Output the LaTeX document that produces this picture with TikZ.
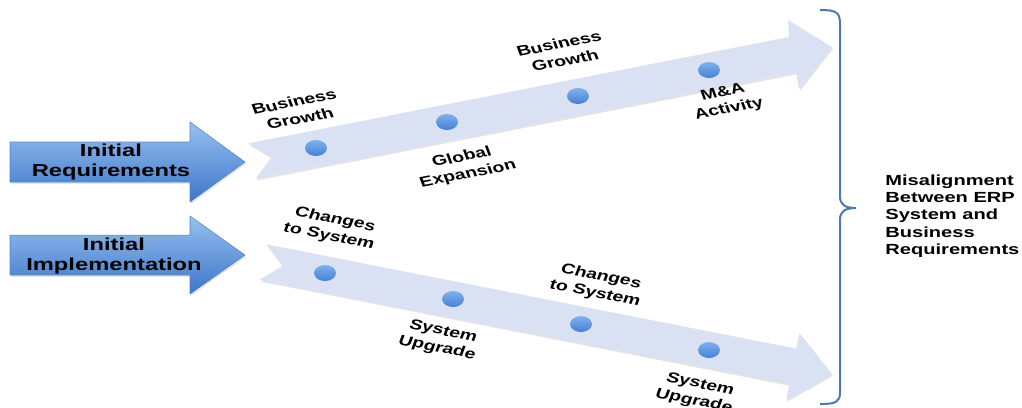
\documentclass[tikz,border=0pt]{standalone}
\usepackage{fontspec}
\setmainfont{Liberation Sans}
\usetikzlibrary{shadows}
\definecolor{trackfill}{RGB}{218,225,243}
\definecolor{dottop}{RGB}{128,176,238}
\definecolor{dotbot}{RGB}{70,128,212}
\definecolor{arrtop}{RGB}{152,192,240}
\definecolor{arrbot}{RGB}{60,118,200}
\definecolor{arredge}{RGB}{84,132,200}
\definecolor{bracecol}{RGB}{79,120,178}
\begin{document}
\begin{tikzpicture}[x=0.5474pt, y=-0.75pt, xscale=1.37,
  every node/.style={transform shape},
  track/.style={fill=trackfill, drop shadow={opacity=0.22, shadow xshift=0.8pt, shadow yshift=-1.4pt}},
  inarrow/.style={top color=arrtop, bottom color=arrbot, draw=arredge, line width=0.4pt,
    drop shadow={opacity=0.2, shadow xshift=0.8pt, shadow yshift=-1.4pt}},
  intext/.style={font=\fontsize{13}{15.5}\selectfont\bfseries, align=center, inner sep=0pt},
  lbl/.style={font=\fontsize{10.7}{13}\selectfont\bfseries, align=center, inner sep=0pt},
  dot/.style={circle, minimum size=12pt, inner sep=0pt, top color=dottop, bottom color=dotbot},
  brace/.style={draw=bracecol, line width=1.5pt}]
\useasboundingbox (0,0) rectangle (1022,407);
% input arrows
\path[inarrow] (10,142) -- (190,142) -- (190,122) -- (245,162) -- (190,202) -- (190,182) -- (10,182) -- cycle;
\path[inarrow] (10,235) -- (190,235) -- (190,216) -- (245,255) -- (190,294) -- (190,275) -- (10,275) -- cycle;
\node[intext] (req)  at (111,162) {Initial\\Requirements};
\node[intext] (impl) at (114,256) {Initial\\Implementation};
% tracks
\path[track] (248.5,143.3) -- (789,37) -- (788,20) -- (832,47) -- (799,89) -- (796,72.4)
  -- (255.5,178.7) -- (271.6,157.1) -- cycle;
\path[track] (266.5,244.3) -- (796.3,348.6) -- (799.4,332.9) -- (832,374) -- (786.2,399.7)
  -- (789.3,384) -- (259.5,279.7) -- (282.6,265.9) -- cycle;
% upper track
\node[dot] (u1) at (316,148) {};
\node[dot] (u2) at (447,122) {};
\node[dot] (u3) at (578,96) {};
\node[dot] (u4) at (709,70) {};
\node[lbl, rotate=15.1] (ugrow1) at (297,110) {Business\\Growth};
\node[lbl, rotate=15.1] (uglob)  at (465,166) {Global\\Expansion};
\node[lbl, rotate=15.1] (ugrow2) at (562,52)  {Business\\Growth};
\node[lbl, rotate=15.1] (umna)   at (726,101) {M\&A\\Activity};
% lower track
\node[dot] (l1) at (325,273) {};
\node[dot] (l2) at (453,299) {};
\node[dot] (l3) at (581,324) {};
\node[dot] (l4) at (709,350) {};
\node[lbl, rotate=-15.1] (lchg1) at (332,228) {Changes\\to System};
\node[lbl, rotate=-15.1] (lupg1) at (440,340) {System\\Upgrade};
\node[lbl, rotate=-15.1] (lchg2) at (598,285) {Changes\\to System};
\node[lbl, rotate=-15.1] (lupg2) at (697,393) {System\\Upgrade};
% brace and result
\coordinate (cusp) at (856,208);
\draw[brace] (820,10) .. controls (836,10) and (840,12) .. (840,24) -- (840,196)
  .. controls (840,205) and (845,208) .. (cusp)
  .. controls (845,208) and (840,211) .. (840,220) -- (840,392)
  .. controls (840,402) and (836,404) .. (820,404);
\node[lbl, font=\fontsize{11}{13}\selectfont\bfseries, align=left, anchor=west] (misalign) at (885,216)
  {Misalignment\\Between ERP\\System and\\Business\\Requirements};
\end{tikzpicture}
\end{document}
